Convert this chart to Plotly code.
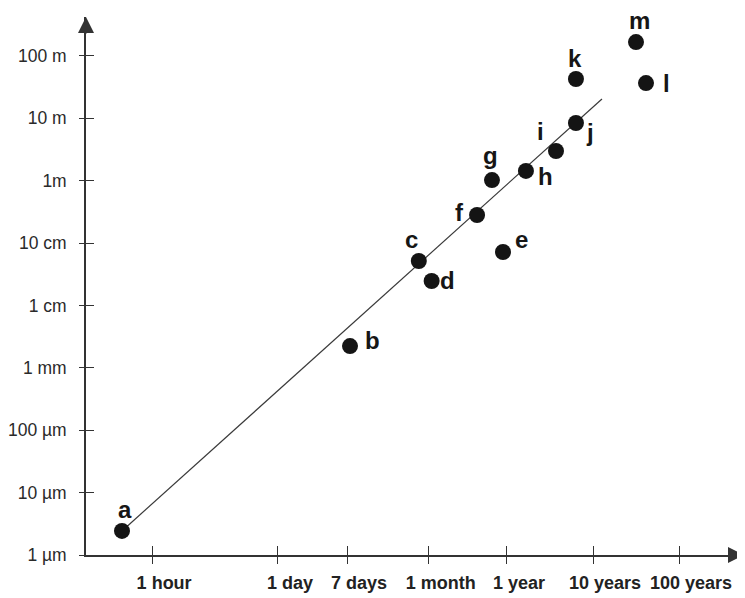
import math
import plotly.graph_objects as go

# ---- data ----
labels = ["a", "b", "c", "d", "e", "f", "g", "h", "i", "j", "k", "l", "m"]
# time in days (log scale)
time_days = [0.0168, 6.6, 40, 56, 363, 184, 272, 662, 1455, 2455, 2455, 15380, 11830]
# size in metres (log scale)
size_m = [2.43e-6, 2.23e-3, 0.0515, 0.0246, 0.0718, 0.281, 1.02, 1.43, 2.98, 8.38, 42.5, 36.6, 166]

# trend line end points
line_days = [0.0168, 4850]
line_m = [2.43e-6, 20.3]

# axis ticks (positions as drawn on the schematic time axis)
x_tick_days = [0.037, 1, 6.1, 52, 403, 3840, 36500]
x_tick_text = ["1 hour", "1 day", "7 days", "1 month", "1 year", "10 years", "100 years"]
y_tick_m = [1e-6, 1e-5, 1e-4, 1e-3, 1e-2, 1e-1, 1, 10, 100]
y_tick_text = ["1 µm", "10 µm", "100 µm", "1 mm", "1 cm", "10 cm", "1m", "10 m", "100 m"]

# label placement offsets (px) relative to each point
label_dx = [3, 22, -7, 16, 19, -18, -1, 20, -15, 14, -1, 20, 4]
label_dy = [21, 6, 21, 1, 12, 3, 25, -6, 20, -9, 21, 0, 22]

X_RANGE = [-2.184, 5.279]
Y_RANGE = [-6, 2.622]
AX_COL = "#333333"

fig = go.Figure()
fig.add_trace(go.Scatter(x=line_days, y=line_m, mode="lines",
                         line=dict(color="#3a3a3a", width=1.2), showlegend=False,
                         hoverinfo="skip"))
fig.add_trace(go.Scatter(x=time_days, y=size_m, mode="markers",
                         marker=dict(size=16, color="#141414"), showlegend=False,
                         text=labels))
# invisible trace to anchor overlay axes (used for inward tick marks)
fig.add_trace(go.Scatter(x=[line_days[0]], y=[line_m[0]], xaxis="x2", yaxis="y2",
                         mode="markers", marker=dict(opacity=0), showlegend=False,
                         hoverinfo="skip"))

for lab, x, y, dx, dy in zip(labels, time_days, size_m, label_dx, label_dy):
    fig.add_annotation(x=math.log10(x), y=math.log10(y), xref="x", yref="y", text=lab,
                       showarrow=False, xshift=dx, yshift=dy,
                       font=dict(family="Liberation Sans, Arial", size=24,
                                 color="#161616", weight="bold"))

# axis arrows
fig.add_annotation(x=0, y=1, xref="paper", yref="paper", ax=0, ay=18,
                   text="", showarrow=True,
                   arrowhead=2, arrowsize=2, arrowwidth=1.6, arrowcolor=AX_COL)
fig.add_annotation(x=1.006, y=0, xref="paper", yref="paper", ax=-18, ay=0,
                   text="", showarrow=True,
                   arrowhead=2, arrowsize=2, arrowwidth=1.6, arrowcolor=AX_COL)

# page body adds an 8px offset, so the figure is sized 737x590
fig.update_layout(
    width=737, height=590,
    margin=dict(l=78, r=3, t=9, b=43),
    paper_bgcolor="white", plot_bgcolor="white",
    font=dict(family="Liberation Sans, Arial", color="#2a2a2a"),
    xaxis=dict(type="log", range=X_RANGE, tickvals=x_tick_days, ticktext=x_tick_text,
               automargin=False,
               showgrid=False, zeroline=False, showline=True, linecolor=AX_COL,
               linewidth=1.6, ticks="outside", ticklen=7, tickwidth=1.3,
               tickcolor=AX_COL, ticklabelshift=12, ticklabelstandoff=4,
               tickfont=dict(size=18, weight="bold", color="#222222")),
    yaxis=dict(type="log", range=Y_RANGE, tickvals=y_tick_m, ticktext=y_tick_text,
               automargin=False,
               showgrid=False, zeroline=False, showline=True, linecolor=AX_COL,
               linewidth=1.6, ticks="outside", ticklen=5, tickwidth=1.3,
               tickcolor=AX_COL, ticklabelstandoff=9,
               tickfont=dict(size=17.5, color="#2a2a2a")),
    xaxis2=dict(type="log", range=X_RANGE, tickvals=x_tick_days, overlaying="x",
                automargin=False,
                showticklabels=False, showgrid=False, zeroline=False, showline=False,
                ticks="inside", ticklen=9, tickwidth=1.3, tickcolor=AX_COL),
    yaxis2=dict(type="log", range=Y_RANGE, tickvals=y_tick_m, overlaying="y",
                automargin=False,
                showticklabels=False, showgrid=False, zeroline=False, showline=False,
                ticks="inside", ticklen=8, tickwidth=1.3, tickcolor=AX_COL),
)

fig.write_html("out.html")
